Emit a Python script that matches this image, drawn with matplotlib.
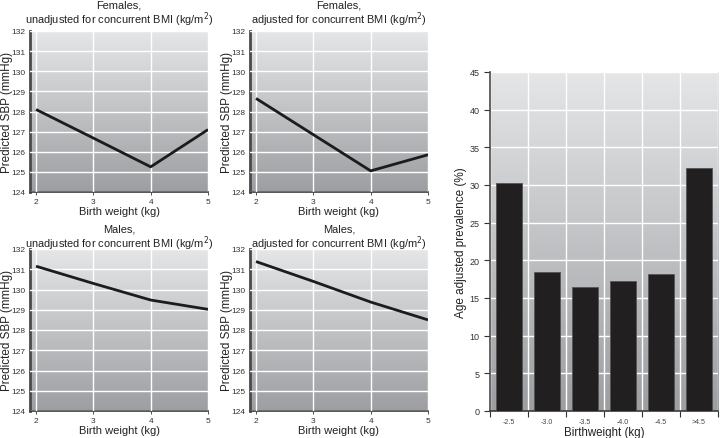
import numpy as np
import matplotlib
matplotlib.use("Agg")
import matplotlib.pyplot as plt
from matplotlib.colors import LinearSegmentedColormap

# line panels data
birth_wt = [2, 3, 4, 5]
f_unadj = [128.1, 126.68, 125.25, 127.1]
f_adj = [128.65, 126.85, 125.05, 125.85]
m_unadj = [131.15, 130.3, 129.48, 129.02]
m_adj = [131.38, 130.4, 129.38, 128.5]

titles = ["Females,\nunadjusted for concurrent BMI (kg/m$^2$)",
          "Females,\nadjusted for concurrent BMI (kg/m$^2$)",
          "Males,\nunadjusted for concurrent BMI (kg/m$^2$)",
          "Males,\nadjusted for concurrent BMI (kg/m$^2$)"]

# bar chart data
bw_cats = ["-2.5", "-3.0", "-3.5", "-4.0", "-4.5", ">4.5"]
prevalence = [30.3, 18.4, 16.4, 17.2, 18.2, 32.3]

plt.rcParams['font.family'] = ['Liberation Sans', 'DejaVu Sans']

fig = plt.figure(figsize=(7.22, 4.39), dpi=100)
grad = LinearSegmentedColormap.from_list("g", ["#9d9ea1", "#e5e6e8"])


def gradient_bg(ax, x0, x1, y0, y1):
    g = np.linspace(0, 1, 256).reshape(-1, 1)
    ax.imshow(g, extent=(x0, x1, y0, y1), origin="lower", aspect="auto",
              cmap=grad, zorder=0)


def style(ax):
    ax.spines["top"].set_visible(False)
    ax.spines["right"].set_visible(False)
    ax.spines["left"].set_color("#4a4a4a")
    ax.spines["left"].set_linewidth(2)
    ax.spines["bottom"].set_color("#3a3a3a")
    ax.spines["bottom"].set_linewidth(1.2)


W, H = 722, 439
boxes = [(30, 32, 208, 193), (250, 32, 428, 193),
         (30, 250, 208, 412), (250, 250, 428, 412)]
series = [f_unadj, f_adj, m_unadj, m_adj]
title_gap = [2.5, 2.5, -3.0, -3.0]  # px offset of title box from axes top

for (l, t, r, b), ys, ttl, gap in zip(boxes, series, titles, title_gap):
    ax = fig.add_axes([l / W, 1 - b / H, (r - l) / W, (b - t) / H])
    gradient_bg(ax, 1.895, 5.0, 124, 132)
    ax.set_xlim(1.895, 5.0)
    ax.set_ylim(124, 132)
    ax.set_xticks([2, 3, 4, 5])
    ax.set_yticks(range(124, 133))
    ax.grid(True, color="white", linewidth=1.0, zorder=1)
    ax.set_axisbelow(False)
    ax.plot(birth_wt, ys, color="#1c1c1c", linewidth=2.0, zorder=3,
            solid_capstyle="butt")
    style(ax)
    ax.tick_params(axis="both", labelsize=6.0, colors="#333333", length=2, width=0.6,
                   pad=2)
    ax.tick_params(axis="y", length=0, pad=3)
    ax.set_xlabel("Birth weight (kg)", fontsize=8, labelpad=1, color="#222222")
    ax.set_ylabel("Predicted SBP (mmHg)", fontsize=8.4, color="#222222")
    ax.yaxis.set_label_coords(-0.098, 0.5)
    ax.set_title(ttl, fontsize=7.9, color="#222222", pad=0, linespacing=1.0,
                 y=1 + gap / (b - t), va="bottom")

# bar chart
l, t, r, b = 490, 73, 718, 412
axb = fig.add_axes([l / W, 1 - b / H, (r - l) / W, (b - t) / H])
x = np.arange(len(bw_cats))
gradient_bg(axb, -0.5, 5.5, 0, 45)
axb.set_xlim(-0.5, 5.5)
axb.set_ylim(0, 45)
axb.set_yticks(range(0, 46, 5))
axb.set_xticks(np.arange(-0.5, 6, 1))
axb.set_xticklabels([])
axb.set_xticks(x, minor=True)
axb.set_xticklabels(bw_cats, minor=True)
axb.grid(True, which="major", color="white", linewidth=1.0, zorder=1)
axb.bar(x, prevalence, width=0.68, color="#221f20", edgecolor="#555555",
        linewidth=0.6, zorder=3)
style(axb)
axb.spines["left"].set_linewidth(1.2)
axb.tick_params(axis="y", labelsize=6.5, colors="#333333", length=4, width=0.8)
axb.tick_params(axis="x", which="major", length=4, width=0.8, colors="#333333")
axb.tick_params(axis="x", which="minor", length=0, labelsize=5, colors="#444444", pad=5)
axb.set_xlabel("Birthweight (kg)", fontsize=8.3, labelpad=1, color="#222222")
axb.set_ylabel("Age adjusted prevalence (%)", fontsize=8.5, color="#222222")
axb.yaxis.set_label_coords(-0.10, 0.5)

fig.savefig("out.png", dpi=100)
